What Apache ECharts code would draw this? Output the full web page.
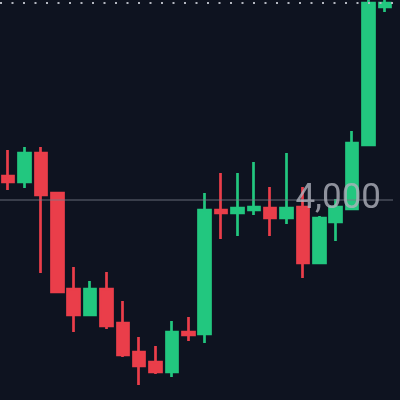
<!DOCTYPE html>
<html>
<head>
<meta charset="utf-8">
<script src="https://cdn.jsdelivr.net/npm/echarts@6/dist/echarts.min.js"></script>
<style>
html,body{margin:0;padding:0;background:#0e1320;}
#c{width:400px;height:400px;}
</style>
</head>
<body>
<div id="c"></div>
<script>
// candle categories (bar index)
var categories = ['1','2','3','4','5','6','7','8','9','10','11','12','13','14','15','16','17','18','19','20','21','22','23','24'];
// [open, close, low, high]
var opens  = [4024,4018,4047,4007,3911,3885,3911,3877,3848,3838,3828,3868,3866,3990,3987,3990,3992,3982,3993,3937,3978,3991,4055,4193];
var closes = [4018,4047,4005,3908,3885,3911,3874,3845,3834,3828,3868,3865,3990,3987,3992,3993,3982,3992,3937,3982,3993,4057,4197,4197];
var lows   = [4010,4012,3927,3908,3868,3885,3871,3843,3815,3826,3823,3859,3857,3961,3964,3985,3964,3976,3922,3937,3959,3991,4055,4188];
var highs  = [4050,4053,4053,4007,3933,3919,3928,3899,3863,3854,3879,3883,4007,4027,4027,4038,4013,4047,4013,3984,4001,4069,4200,4200];
var levelValue = 4000;
var levelLabel = '4,000';
var lastPriceLine = 4197;
var yMin = 3800, yMax = 4200;

var data = categories.map(function(c,i){ return [opens[i], closes[i], lows[i], highs[i]]; });

var chart = echarts.init(document.getElementById('c'), null, {renderer:'canvas'});
chart.setOption({
  backgroundColor:'#0e1320',
  animation:false,
  grid:{left:-3, right:7, top:0, bottom:0},
  xAxis:{type:'category', data:categories, show:false, boundaryGap:true},
  yAxis:{type:'value', min:yMin, max:yMax, show:false, splitLine:{show:false}},
  series:[{
    type:'candlestick',
    data:data,
    barWidth:12,
    itemStyle:{
      color:'#22c77f', color0:'#ea3e4a',
      borderColor:'#22c77f', borderColor0:'#ea3e4a',
      borderWidth:2.7
    },
    markLine:{
      silent:true, symbol:['none','none'], animation:false,
      label:{show:false},
      data:[
        {yAxis:levelValue, lineStyle:{color:'rgba(120,126,140,0.55)', width:1.5, type:'solid'}},
        {yAxis:lastPriceLine, lineStyle:{color:'#b4b7c0', width:2, type:[2,9.5]}}
      ]
    }
  }]
});
var py = chart.convertToPixel({yAxisIndex:0}, levelValue);
chart.setOption({
  graphic:[{
    type:'text', z:100, right:19, y:py - 18,
    style:{text:levelLabel, font:'35px Roboto', fill:'rgba(175,178,188,0.8)'}
  }]
});
</script>
</body>
</html>
